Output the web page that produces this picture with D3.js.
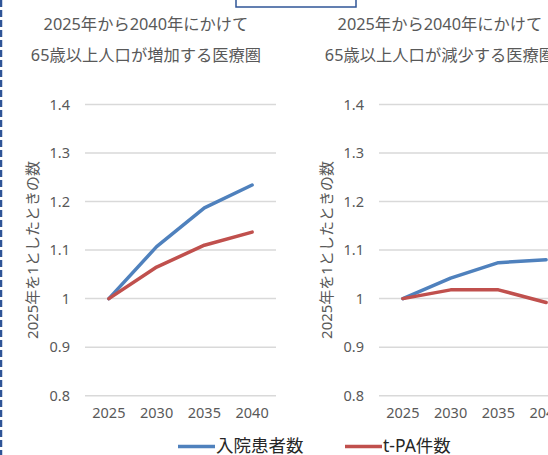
<!DOCTYPE html>
<html>
<head>
<meta charset="utf-8">
<script src="https://cdn.jsdelivr.net/npm/d3@7"></script>
<style>
  body { margin: 0; background: #fff; overflow: hidden; }
  svg { display: block; }
  text { font-family: "Noto Sans", "Noto Sans CJK JP", sans-serif; }
</style>
</head>
<body>
<div id="chart"></div>
<script>
// data
var years = ["2025", "2030", "2035", "2040"];
var yTicks = [0.8, 0.9, 1, 1.1, 1.2, 1.3, 1.4];
var seriesNames = ["入院患者数", "t-PA件数"];
var seriesColors = ["#4F81BD", "#C0504D"];

var incPatients = [1.0, 1.107, 1.187, 1.234];
var incTpa = [1.0, 1.065, 1.110, 1.137];
var decPatients = [1.0, 1.042, 1.074, 1.080];
var decTpa = [1.0, 1.018, 1.018, 0.992];

var panelTitles = [
    ["2025年から2040年にかけて", "65歳以上人口が増加する医療圏"],
    ["2025年から2040年にかけて", "65歳以上人口が減少する医療圏"]
];
var yTitle = "2025年を1としたときの数";

var width = 548, height = 455;

var svg = d3.select("#chart").append("svg")
    .attr("width", width)
    .attr("height", height);

// dashed frame on the left edge
svg.append("line")
    .attr("x1", 1).attr("x2", 1)
    .attr("y1", 0).attr("y2", height)
    .attr("stroke", "#2F5597")
    .attr("stroke-width", 2.5)
    .attr("stroke-dasharray", "7,3");

// box peeking in at the top
svg.append("rect")
    .attr("x", 236).attr("y", -10)
    .attr("width", 120).attr("height", 17)
    .attr("fill", "none")
    .attr("stroke", "#2F5597")
    .attr("stroke-width", 1.5);

var y = d3.scaleLinear().domain([0.8, 1.4]).range([395.7, 104.4]);

function drawPanel(left, titleCx, titleLines, blue, red, yTitleX) {
    var x = d3.scaleBand().domain(years).range([left, left + 191]);

    var g = svg.append("g");

    g.selectAll(".title")
      .data(titleLines)
      .enter().append("text")
        .attr("x", titleCx)
        .attr("y", function (d, i) { return 24 + i * 31; })
        .attr("dy", "0.35em")
        .attr("text-anchor", "middle")
        .attr("fill", "#595959")
        .style("font-size", "16.3px")
        .text(function (d) { return d; });

    // grid
    g.selectAll(".grid")
      .data(yTicks)
      .enter().append("line")
        .attr("x1", left)
        .attr("x2", left + 191)
        .attr("y1", function (d) { return y(d); })
        .attr("y2", function (d) { return y(d); })
        .attr("stroke", "#D9D9D9")
        .attr("stroke-width", 1.5);

    // y labels
    var yAxis = g.append("g")
        .attr("transform", "translate(" + (left - 8) + ",0)")
        .call(d3.axisLeft(y).tickValues(yTicks).tickSize(0).tickPadding(7)
            .tickFormat(function (d) { return d3.format("")(+d.toFixed(1)); }));
    yAxis.select(".domain").remove();
    yAxis.selectAll("text").attr("fill", "#595959").style("font-size", "14.5px");

    // x labels
    var xAxis = g.append("g")
        .attr("transform", "translate(0,404)")
        .call(d3.axisBottom(x).tickSize(0).tickPadding(4));
    xAxis.select(".domain").remove();
    xAxis.selectAll("text").attr("fill", "#595959").style("font-size", "14.5px");

    g.append("text")
        .attr("transform", "translate(" + yTitleX + ",250) rotate(-90)")
        .attr("text-anchor", "middle")
        .attr("dy", "0.35em")
        .attr("fill", "#595959")
        .style("font-size", "15px")
        .text(yTitle);

    var line = d3.line()
        .x(function (d, i) { return x(years[i]) + x.bandwidth() / 2; })
        .y(function (d) { return y(d); });

    [blue, red].forEach(function (s, k) {
        g.append("path")
            .datum(s)
            .attr("d", line)
            .attr("fill", "none")
            .attr("stroke", seriesColors[k])
            .attr("stroke-width", 3.5)
            .attr("stroke-linejoin", "round")
            .attr("stroke-linecap", "round");
    });
}

drawPanel(85, 146, panelTitles[0], incPatients, incTpa, 33);
drawPanel(379, 440, panelTitles[1], decPatients, decTpa, 327);

// legend
var legend = svg.append("g");
var legendX = [178, 345];
seriesNames.forEach(function (name, i) {
    legend.append("line")
        .attr("x1", legendX[i]).attr("x2", legendX[i] + 37)
        .attr("y1", 446.5).attr("y2", 446.5)
        .attr("stroke", seriesColors[i])
        .attr("stroke-width", 3.5);
    legend.append("text")
        .attr("x", legendX[i] + 38)
        .attr("y", 445.5)
        .attr("dy", "0.35em")
        .attr("fill", "#262626")
        .style("font-size", "17.5px")
        .text(name);
});
</script>
</body>
</html>
